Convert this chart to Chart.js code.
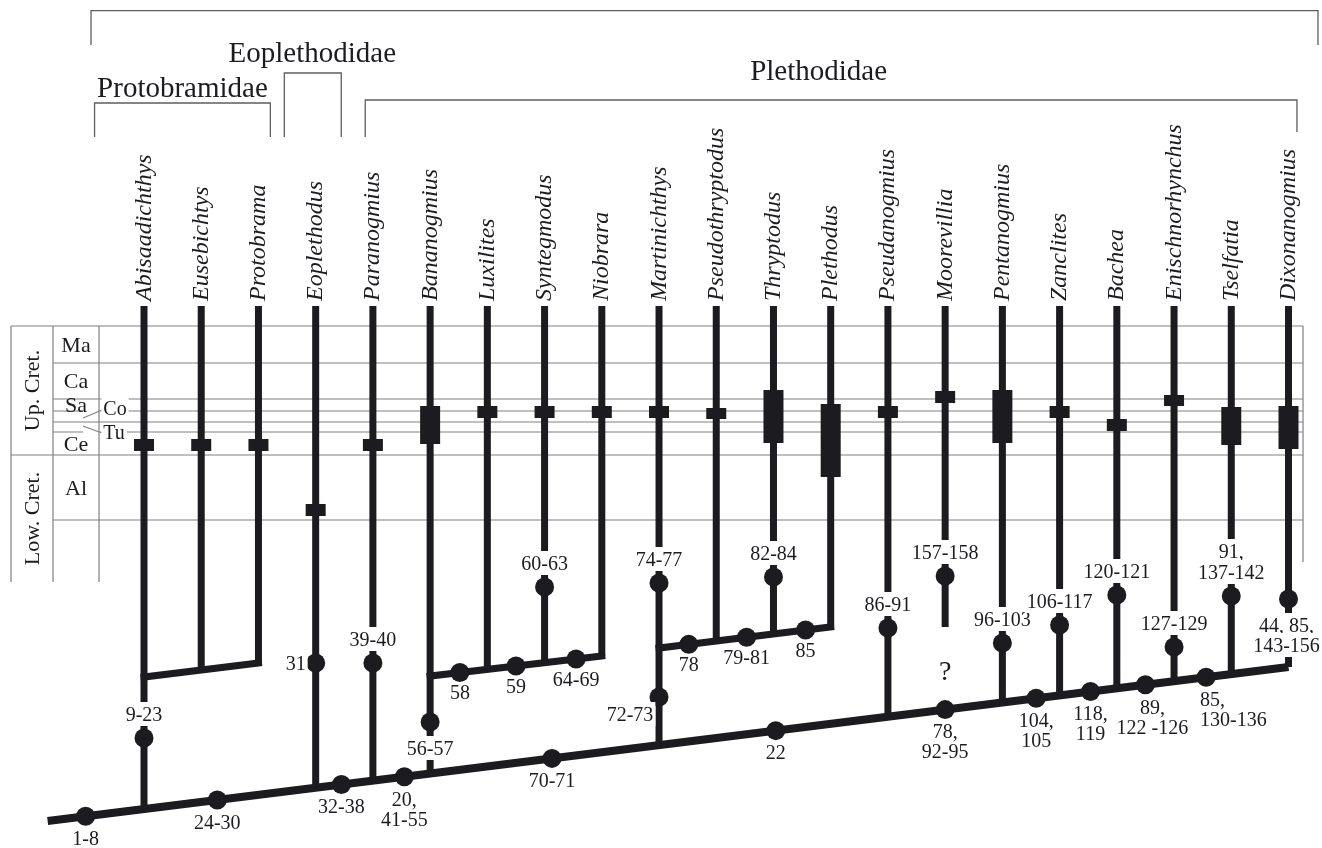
<!DOCTYPE html>
<html><head><meta charset="utf-8">
<script src="https://cdn.jsdelivr.net/npm/chart.js@4/dist/chart.umd.min.js"></script>
<style>html,body{margin:0;padding:0;background:#fff;}canvas{display:block;}</style>
</head><body>
<canvas id="c" width="1322" height="848"></canvas>
<script>
// ---------------- DATA ----------------
const taxa = ['Abisaadichthys','Eusebichtys','Protobrama','Eoplethodus','Paranogmius','Bananogmius','Luxilites','Syntegmodus','Niobrara','Martinichthys','Pseudothryptodus','Thryptodus','Plethodus','Pseudanogmius','Moorevillia','Pentanogmius','Zanclites','Bachea','Enischnorhynchus','Tselfatia','Dixonanogmius'];
// stratigraphic range bars (depth units of the time column)
const rangeTop  = [439,439,439,504,439,406,406,406,406,406,408,390,404,406,391,390,406,419,395,407,406];
const rangeBase = [451,451,451,516,451,444,418,418,418,418,419,443,477,418,403,443,418,431,406,445,449];
// where each terminal branch attaches
const stemAttach = ['spine','proto','proto','spine','spine','spine','ban','ban','ban','spine','ple','ple','ple','spine',627,'spine','spine','spine','spine','spine','spine'];

// main spine and sub-clade lines (x in taxon units, y in depth units)
const spineX = [-1.684, 20], spineY = [821, 667];
const protoX = [0, 2],       protoY = [677, 663];
const banX   = [5, 8],       banY   = [676, 656];
const pleX   = [9, 12],      pleY   = [648, 627];

// character-state nodes on the spine
const spineNodeX     = [-1.02, 1.28, 3.45, 4.55, 7.13, 11.04, 14, 15.59, 16.54, 17.50, 18.56];
const spineNodeChars = ['1-8','24-30','32-38','20,|41-55','70-71','22','78,|92-95','104,|105','118,|119','89,|122 -126','85,|130-136'];
// nodes on sub-clade lines
const banNodeX = [5.52, 6.50, 7.55], banNodeChars = ['58','59','64-69'];
const pleNodeX = [9.52, 10.53, 11.56], pleNodeChars = ['78','79-81','85'];
// nodes on terminal branches
const stemNodeTaxon = [0,3,4,5,7,9,9,11,13,14,15,16,17,18,19,20];
const stemNodeY     = [738,663,663,722,587,697,583,577,628,576,643,625,595,647,596,599];
const stemNodeChars = ['9-23','31','39-40','56-57','60-63','72-73','74-77','82-84','86-91','157-158','96-103','106-117','120-121','127-129','91,|137-142','44, 85,|143-156'];
const stemNodeSide  = ['above','left','above','below','above','belowleft','above','above','above','above','above','above','above','above','above','below'];

// stratigraphic column
const stageNames = ['Ma','Ca','Sa','Co','Tu','Ce','Al'];
const stageBounds = [326, 363, 399, 411, 422, 432, 455, 520];
const epochNames = ['Up. Cret.','Low. Cret.'];
const epochBounds = [326, 455, 582];

// family brackets
const families = ['Protobramidae','Eoplethodidae','Plethodidae'];
const familyFrom = [-0.864, 2.452, 3.866];
const familyTo   = [2.208, 3.447, 20.148];

// ---------------- LAYOUT HELPERS ----------------
const INK = '#1c1b1f', GRID = '#808080', BRK = '#5e5e5e';
const X_MIN = -2.5164, X_MAX = 20.5854;
const STEM_TOP = 306;
const FRAME_L = -2.324, FRAME_C1 = -1.590, FRAME_C2 = -0.786, FRAME_R = 20.254;
const clades = {spine:[spineX,spineY], proto:[protoX,protoY], ban:[banX,banY], ple:[pleX,pleY]};
function yOn(xs, ys, x){ return ys[0] + (ys[1]-ys[0])*(x-xs[0])/(xs[1]-xs[0]); }
function seg(arr, pts){ if(arr.length) arr.push({x:pts[0].x, y:null}); pts.forEach(p=>arr.push(p)); }

// terminal branches & range bars
const stemData = [], rangeData = [];
taxa.forEach((t,i)=>{
  const a = stemAttach[i];
  const base = typeof a === 'number' ? a : yOn(clades[a][0], clades[a][1], i);
  seg(stemData, [{x:i,y:STEM_TOP},{x:i,y:base}]);
  seg(rangeData, [{x:i,y:rangeTop[i]},{x:i,y:rangeBase[i]}]);
});
const spineData = [{x:spineX[0],y:spineY[0]},{x:spineX[1],y:spineY[1]}];
const cladeData = [];
[[protoX,protoY],[banX,banY],[pleX,pleY]].forEach(([xs,ys])=>seg(cladeData,[{x:xs[0],y:ys[0]},{x:xs[1],y:ys[1]}]));

// nodes + labels
const nodePts = [], labels = [];
spineNodeX.forEach((x,k)=>{
  const y = yOn(spineX, spineY, x);
  nodePts.push({x,y});
  labels.push({text:spineNodeChars[k], x, y, dy:22, step:20, dir:1});
});
banNodeX.forEach((x,k)=>{ const y=yOn(banX,banY,x); nodePts.push({x,y}); labels.push({text:banNodeChars[k],x,y,dy:20,step:20,dir:1}); });
pleNodeX.forEach((x,k)=>{ const y=yOn(pleX,pleY,x); nodePts.push({x,y}); labels.push({text:pleNodeChars[k],x,y,dy:20,step:20,dir:1}); });
stemNodeTaxon.forEach((x,k)=>{
  const y = stemNodeY[k]; nodePts.push({x,y});
  const s = stemNodeSide[k];
  if (s==='above') labels.push({text:stemNodeChars[k],x,y,dy:-24,step:21,dir:-1,bg:true});
  else if (s==='below') labels.push({text:stemNodeChars[k],x,y,dy:26,step:20,dir:1,bg:true});
  else if (s==='left') labels.push({text:stemNodeChars[k],x,y,dy:0,dx:-20,step:20,dir:1,bg:true});
  else labels.push({text:stemNodeChars[k],x,y,dy:17,dx:-29,step:20,dir:1,bg:true});
});
const labelShift = {'89,|122 -126':[7,'center'], '85,|130-136':[-6,'left'], '44, 85,|143-156':[-2,'center']};

// frame of the time column
const frameData = [];
const hSeg = (y,x0,x1)=>seg(frameData,[{x:x0,y},{x:x1,y}]);
hSeg(stageBounds[0], FRAME_L, FRAME_R);
hSeg(stageBounds[1], FRAME_C1, FRAME_R);
hSeg(stageBounds[2], FRAME_C1, FRAME_R);
hSeg(stageBounds[3], FRAME_C1, -1.066); hSeg(stageBounds[3], FRAME_C2, FRAME_R);
hSeg(stageBounds[4], FRAME_C1, FRAME_R);
hSeg(stageBounds[5], FRAME_C1, -1.066); hSeg(stageBounds[5], FRAME_C2, FRAME_R);
hSeg(stageBounds[6], FRAME_L, FRAME_R);
hSeg(stageBounds[7], FRAME_C1, FRAME_R);
[FRAME_L, FRAME_C1, FRAME_C2].forEach(x=>seg(frameData,[{x,y:326},{x,y:582}]));
seg(frameData,[{x:FRAME_R,y:326},{x:FRAME_R,y:562}]);
seg(frameData,[{x:-1.066,y:418},{x:-0.734,y:410}]);
seg(frameData,[{x:-1.066,y:426},{x:-0.734,y:433}]);

// brackets
const bracketData = [];
seg(bracketData,[{x:-0.926,y:45},{x:-0.926,y:10.7},{x:20.515,y:10.7},{x:20.515,y:45}]);
const famTop = [103, 73, 100], famBotL = [137,137,137], famBotR=[137,137,132];
families.forEach((f,k)=>seg(bracketData,[{x:familyFrom[k],y:famBotL[k]},{x:familyFrom[k],y:famTop[k]},{x:familyTo[k],y:famTop[k]},{x:familyTo[k],y:famBotR[k]}]));

function lineDS(label, data, w, color, cap){
  return {type:'scatter', label, data, showLine:true, spanGaps:false, borderColor:color, borderWidth:w,
    pointRadius:0, pointHoverRadius:0, borderCapStyle:cap, borderJoinStyle:'miter', tension:0, fill:false, clip:false};
}

const SERIF = "'Liberation Serif','Times New Roman',serif";
const textPlugin = {
  id:'cladeText',
  afterDatasetsDraw(chart){
    const ctx = chart.ctx, xs = chart.scales.x, ys = chart.scales.y;
    const X = v=>xs.getPixelForValue(v), Y = v=>ys.getPixelForValue(v);
    ctx.save();
    function put(text, px, py, size, opt){
      opt = opt||{};
      ctx.font = (opt.italic?'italic ':'') + size + 'px ' + SERIF;
      ctx.textAlign = opt.align||'center';
      ctx.textBaseline = 'alphabetic';
      if (opt.bg){
        const w = ctx.measureText(text).width;
        const l = ctx.textAlign==='left'?px:ctx.textAlign==='right'?px-w:px-w/2;
        ctx.fillStyle='#fff';
        ctx.fillRect(l-2, py-(opt.bgH||12), w+4, (opt.bgH||12)*2);
      }
      ctx.fillStyle = INK;
      ctx.fillText(text, px, py + size*0.34);
    }
    // node labels
    labels.forEach(L=>{
      const lines = L.text.split('|');
      const sh = labelShift[L.text] || [0,'center'];
      const px = X(L.x) + (L.dx||0) + sh[0];
      const py0 = Y(L.y) + L.dy;
      const n = lines.length;
      lines.forEach((t,j)=>{
        const py = L.dir<0 ? py0 - (n-1-j)*L.step : py0 + j*L.step;
        put(t, px, py, 20, {bg:L.bg, align:sh[1]});
      });
    });
    // question mark for Moorevillia
    put('?', X(14), Y(670), 28, {});
    // taxon names
    taxa.forEach((t,i)=>{
      ctx.save();
      ctx.translate(X(i)+6.5, Y(301));
      ctx.rotate(-Math.PI/2);
      ctx.font = 'italic 24px ' + SERIF;
      ctx.textAlign='left'; ctx.textBaseline='alphabetic'; ctx.fillStyle=INK;
      ctx.fillText(t,0,0);
      ctx.restore();
    });
    // family names
    const famX = [0.672, 2.941, 11.789], famY = [97, 62, 80];
    families.forEach((f,k)=>{
      ctx.font = '29px ' + SERIF; ctx.textAlign='center'; ctx.textBaseline='alphabetic'; ctx.fillStyle=INK;
      ctx.fillText(f, X(famX[k]), Y(famY[k]));
    });
    // stage names
    const colX = X((FRAME_C1+FRAME_C2)/2);
    stageNames.forEach((s,k)=>{
      const mid = Y((stageBounds[k]+stageBounds[k+1])/2);
      if (s==='Co') put(s, X(-0.507), Y(408), 20, {bg:true, bgH:10});
      else if (s==='Tu') put(s, X(-0.524), Y(432), 20, {bg:true, bgH:8});
      else put(s, colX, mid, 22, {});
    });
    // epoch names
    epochNames.forEach((e,k)=>{
      const mid = Y((epochBounds[k]+epochBounds[k+1])/2);
      ctx.save();
      ctx.translate(X((FRAME_L+FRAME_C1)/2)+7, mid);
      ctx.rotate(-Math.PI/2);
      ctx.font='22px '+SERIF; ctx.textAlign='center'; ctx.textBaseline='alphabetic'; ctx.fillStyle=INK;
      ctx.fillText(e,0,0);
      ctx.restore();
    });
    ctx.restore();
  }
};

new Chart(document.getElementById('c'), {
  type:'scatter',
  data:{ datasets:[
    {type:'scatter', label:'nodes', data:nodePts, pointRadius:9.5, pointHoverRadius:9.5, pointBackgroundColor:INK, pointBorderWidth:0, showLine:false, clip:false},
    lineDS('ranges', rangeData, 20, INK, 'butt'),
    lineDS('stems', stemData, 7, INK, 'butt'),
    lineDS('clades', cladeData, 7, INK, 'square'),
    lineDS('spine', spineData, 8, INK, 'butt'),
    lineDS('brackets', bracketData, 1.3, BRK, 'butt'),
    lineDS('frame', frameData, 1.2, GRID, 'butt')
  ]},
  options:{
    responsive:false, animation:false, events:[],
    layout:{padding:0, autoPadding:false},
    plugins:{legend:{display:false}, tooltip:{enabled:false}},
    scales:{
      x:{type:'linear', min:X_MIN, max:X_MAX, display:false},
      y:{type:'linear', min:0, max:848, reverse:true, display:false}
    }
  },
  plugins:[textPlugin]
});
</script>
</body></html>
